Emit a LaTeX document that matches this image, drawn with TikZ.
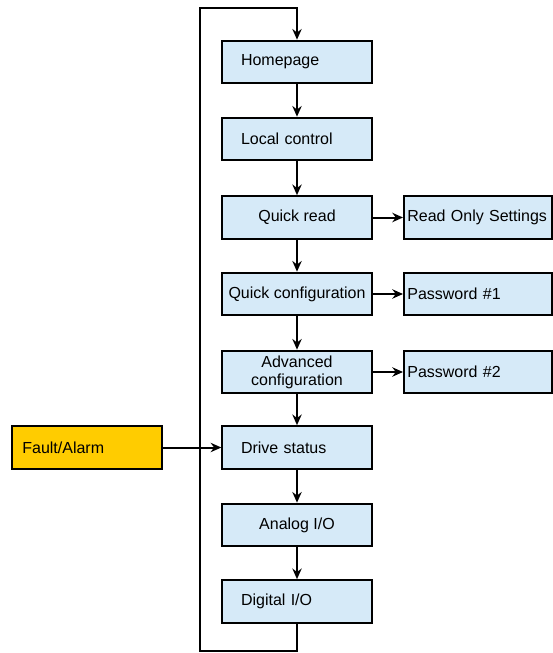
\documentclass[tikz,border=0pt]{standalone}
\usepackage{fontspec}
\setmainfont{Liberation Sans}
\usetikzlibrary{arrows.meta}
\definecolor{menublue}{RGB}{214,234,248}
\definecolor{faultgold}{RGB}{255,204,0}

\begin{document}
\begin{tikzpicture}[x=0.75pt,y=-0.75pt,line width=1.5pt,>={Stealth[length=8pt,width=7pt]}]
		\tikzstyle{menu}=[draw,fill=menublue,minimum width=112pt,minimum height=32pt,inner sep=0pt,font=\fontsize{12}{13.5}\selectfont]
		\tikzstyle{centred}=[menu,align=center]
		\tikzstyle{lefty}=[menu,text width=84pt,align=left]
		\tikzstyle{side}=[menu,minimum width=111pt,text width=106pt,align=left]
		\tikzstyle{fault}=[side,fill=faultgold,minimum width=112.5pt,text width=97pt]
		
		\useasboundingbox (0,0) rectangle (553,653);
		
		% Menu pages, top to bottom
		\foreach \name/\y/\sty/\txt in {home/62/lefty/Homepage,
			local/139/lefty/Local control,
			qread/217.5/centred/Quick read,
			qconf/294/centred/Quick configuration,
			adv/372/centred/{Advanced\\configuration},
			drive/447.5/lefty/Drive status,
			analog/525/centred/{Analog I/O},
			digital/601.5/lefty/{Digital I/O}}
		\node[\sty] (\name) at (297,\y) {\txt};
		
		% Pages reached from the side
		\node[side] (ro) at (478,217.5) {Read Only Settings};
		\node[side] (pw1) at (478,294) {Password \#1};
		\node[side] (pw2) at (478,372) {Password \#2};
		\node[fault] (alarm) at (87,447.5) {Fault/Alarm};
		
		% Step down the menu
		\foreach \source/\dest in {home/local,local/qread,qread/qconf,qconf/adv,adv/drive,drive/analog,analog/digital}
		\draw[->] (\source) -- (\dest);
		
		\foreach \source/\dest in {qread/ro,qconf/pw1,adv/pw2,alarm/drive}
		\draw[->] (\source) -- (\dest);
		
		% Wrap round from the last page to the first
		\coordinate (bottom) at (200,651);
		\coordinate (top) at (200,8);
		\draw[->] (digital.south) |- (bottom) -- (top) -| (home.north);
	
	\end{tikzpicture}
\end{document}
